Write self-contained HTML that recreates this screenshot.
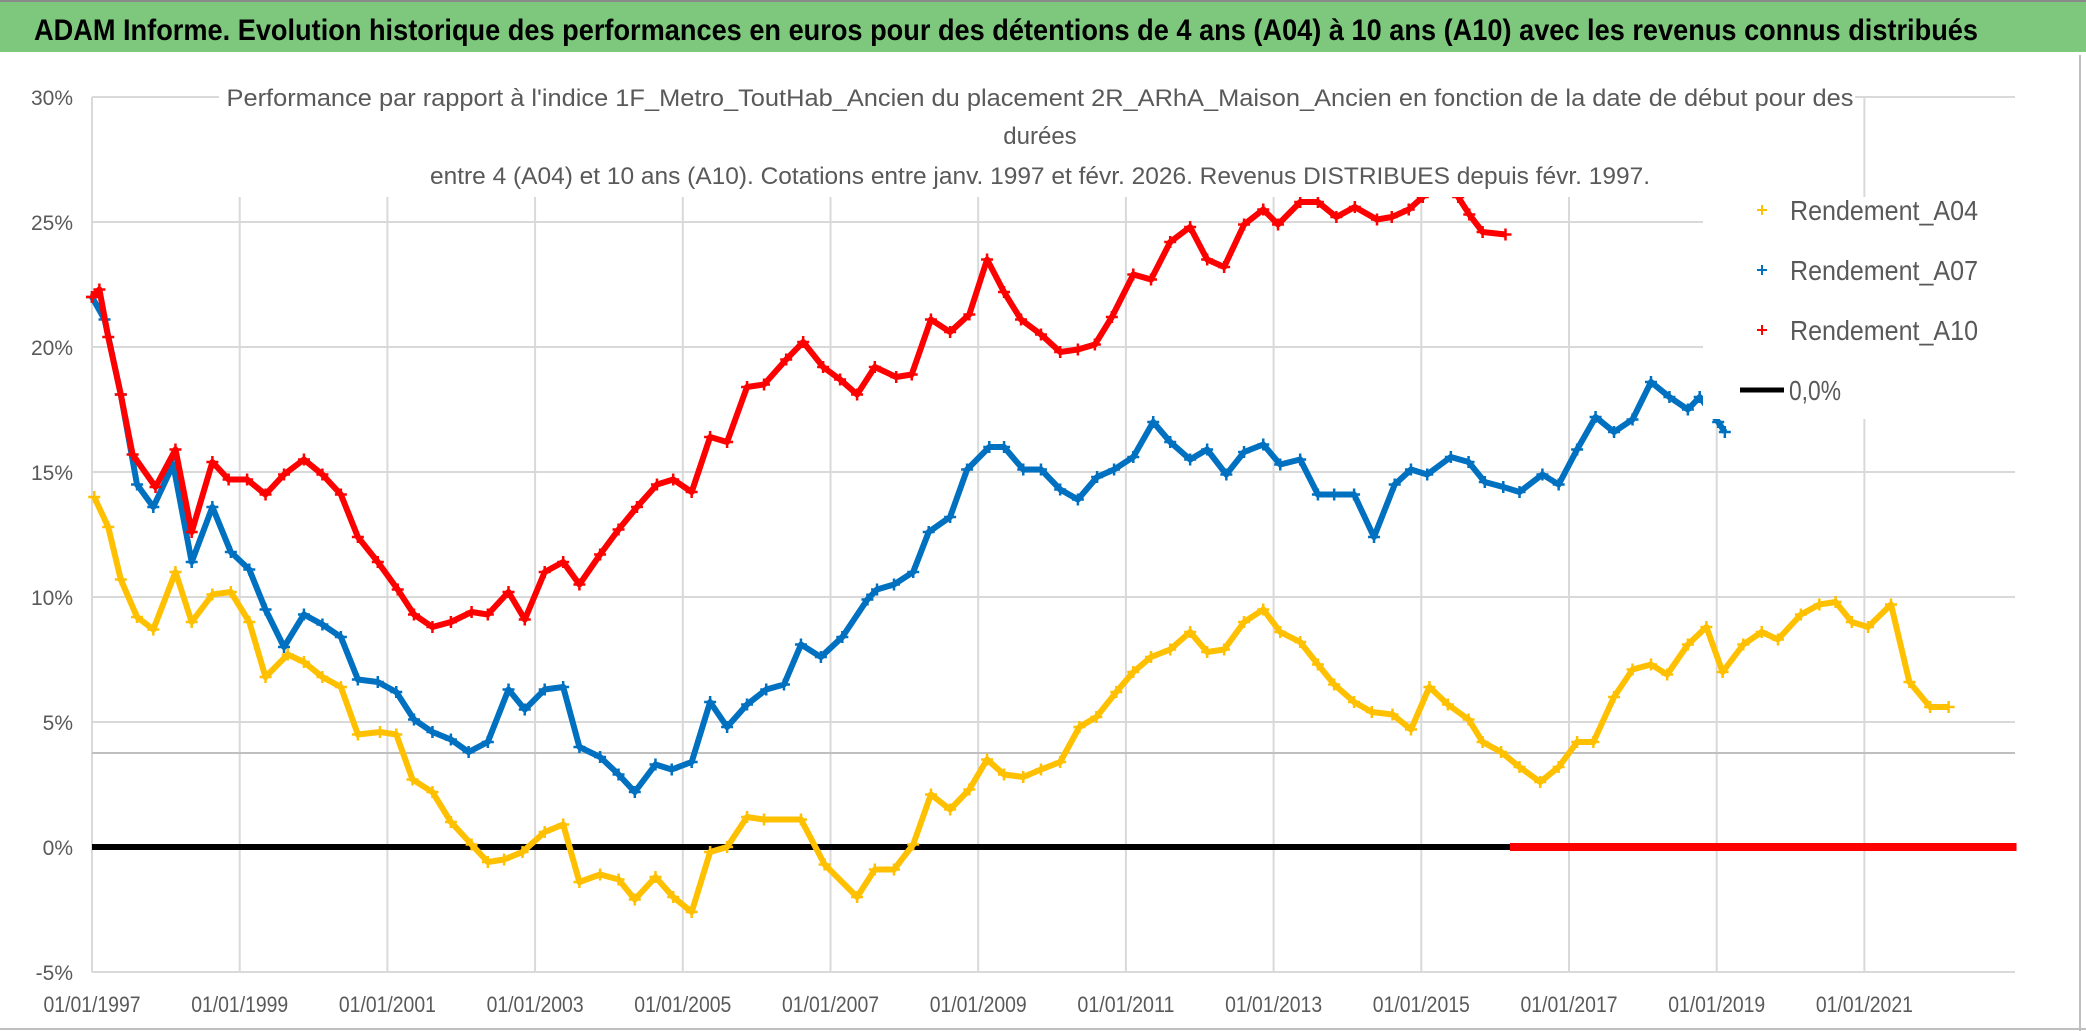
<!DOCTYPE html>
<html><head><meta charset="utf-8"><style>
html,body{margin:0;padding:0;background:#fff;}
svg{display:block;font-family:"Liberation Sans",sans-serif;}
</style></head><body>
<svg id="chart" width="2086" height="1031" viewBox="0 0 2086 1031" xmlns="http://www.w3.org/2000/svg">
<rect x="0" y="0" width="2086" height="1031" fill="#fff"/>
<rect x="0" y="0" width="2086" height="52" fill="#7dc87d"/>
<rect x="0" y="0" width="2086" height="2" fill="#8a8a8a"/>
<text x="34" y="40" font-size="30" font-weight="bold" fill="#000" textLength="1944" lengthAdjust="spacingAndGlyphs">ADAM Informe. Evolution historique des performances en euros pour des détentions de 4 ans (A04) à 10 ans (A10) avec les revenus connus distribués</text>
<line x1="2080" y1="55" x2="2080" y2="1031" stroke="#bfbfbf" stroke-width="2"/>
<line x1="0" y1="1029" x2="2086" y2="1029" stroke="#bfbfbf" stroke-width="2"/>
<g id="grid"></g>
<g id="series"></g>
<rect x="219" y="78" width="1636" height="119" fill="#fff"/>
<text x="1040" y="106" font-size="24" fill="#595959" text-anchor="middle" textLength="1627" lengthAdjust="spacingAndGlyphs">Performance par rapport à l'indice 1F_Metro_ToutHab_Ancien  du placement 2R_ARhA_Maison_Ancien en fonction de la date de début pour des</text>
<text x="1040" y="144" font-size="24" fill="#595959" text-anchor="middle">durées</text>
<text x="1040" y="184" font-size="24" fill="#595959" text-anchor="middle" textLength="1220" lengthAdjust="spacingAndGlyphs">entre 4 (A04) et 10 ans (A10). Cotations entre janv. 1997 et févr. 2026. Revenus DISTRIBUES depuis févr. 1997.</text>
<rect x="1703" y="197" width="312" height="222" fill="#fff"/>
<g>
 <g><path d="M1757 210h10M1762 205v10" stroke="#ffc000" stroke-width="2"/><text x="1790" y="220" font-size="28" fill="#595959" textLength="188" lengthAdjust="spacingAndGlyphs">Rendement_A04</text></g>
 <g><path d="M1757 270h10M1762 265v10" stroke="#0070c0" stroke-width="2"/><text x="1790" y="280" font-size="28" fill="#595959" textLength="188" lengthAdjust="spacingAndGlyphs">Rendement_A07</text></g>
 <g><path d="M1757 330h10M1762 325v10" stroke="#ff0000" stroke-width="2"/><text x="1790" y="340" font-size="28" fill="#595959" textLength="188" lengthAdjust="spacingAndGlyphs">Rendement_A10</text></g>
 <g><line x1="1740" y1="390" x2="1784" y2="390" stroke="#000" stroke-width="5"/><text x="1789" y="400" font-size="28" fill="#595959" textLength="52" lengthAdjust="spacingAndGlyphs">0,0%</text></g>
</g>
<g id="axes"></g>
</svg>
<script>
const yTicks = [30, 25, 20, 15, 10, 5, 0, -5];
const yTickLabels = ["30%","25%","20%","15%","10%","5%","0%","-5%"];
const xTicks = [1997,1999,2001,2003,2005,2007,2009,2011,2013,2015,2017,2019,2021];
const xTickLabels = ["01/01/1997","01/01/1999","01/01/2001","01/01/2003","01/01/2005","01/01/2007","01/01/2009","01/01/2011","01/01/2013","01/01/2015","01/01/2017","01/01/2019","01/01/2021"];
const refLineValue = 3.76;
const zeroLineValue = 0;
const a10ZeroStart = 2016.2;
const a10ZeroEnd = 2023.06;
const a04Dates = [1997.03,1997.22,1997.39,1997.61,1997.83,1998.13,1998.35,1998.63,1998.88,1999.13,1999.35,1999.65,1999.87,2000.12,2000.37,2000.6,2000.9,2001.12,2001.34,2001.61,2001.86,2002.14,2002.36,2002.58,2002.83,2003.13,2003.38,2003.6,2003.88,2004.13,2004.35,2004.63,2004.87,2005.12,2005.37,2005.6,2005.87,2006.1,2006.6,2006.92,2007.36,2007.6,2007.86,2008.12,2008.36,2008.62,2008.88,2009.12,2009.35,2009.61,2009.85,2010.11,2010.37,2010.6,2010.87,2011.1,2011.34,2011.6,2011.87,2012.1,2012.33,2012.6,2012.86,2013.09,2013.36,2013.6,2013.82,2014.09,2014.33,2014.61,2014.86,2015.11,2015.36,2015.64,2015.83,2016.08,2016.33,2016.61,2016.86,2017.11,2017.33,2017.61,2017.86,2018.11,2018.33,2018.61,2018.86,2019.08,2019.36,2019.61,2019.83,2020.14,2020.39,2020.61,2020.83,2021.05,2021.36,2021.61,2021.89,2022.14];
const a04Values = [14.0,12.8,10.7,9.2,8.7,11.0,9.0,10.1,10.2,9.0,6.8,7.7,7.4,6.8,6.4,4.5,4.6,4.5,2.7,2.2,1.0,0.1,-0.6,-0.5,-0.2,0.6,0.9,-1.4,-1.1,-1.3,-2.1,-1.2,-2.0,-2.6,-0.2,0.0,1.2,1.1,1.1,-0.7,-2.0,-0.9,-0.9,0.1,2.1,1.5,2.3,3.5,2.9,2.8,3.1,3.4,4.8,5.2,6.2,7.0,7.6,7.9,8.6,7.8,7.9,9.0,9.5,8.6,8.2,7.3,6.5,5.8,5.4,5.3,4.7,6.4,5.7,5.1,4.2,3.8,3.2,2.6,3.2,4.2,4.2,6.0,7.1,7.3,6.9,8.1,8.8,7.0,8.1,8.6,8.3,9.3,9.7,9.8,9.0,8.8,9.7,6.6,5.6,5.6];
const a07Dates = [1997.0,1997.17,1997.39,1997.61,1997.83,1998.1,1998.35,1998.63,1998.88,1999.13,1999.35,1999.6,1999.87,2000.12,2000.37,2000.6,2000.87,2001.12,2001.36,2001.61,2001.86,2002.1,2002.36,2002.64,2002.86,2003.13,2003.38,2003.6,2003.88,2004.13,2004.35,2004.63,2004.85,2005.12,2005.37,2005.6,2005.87,2006.13,2006.37,2006.6,2006.87,2007.16,2007.5,2007.63,2007.86,2008.12,2008.33,2008.62,2008.85,2009.15,2009.35,2009.61,2009.85,2010.11,2010.35,2010.61,2010.84,2011.1,2011.37,2011.6,2011.87,2012.1,2012.36,2012.6,2012.86,2013.09,2013.36,2013.6,2013.82,2014.09,2014.36,2014.64,2014.86,2015.08,2015.4,2015.64,2015.86,2016.11,2016.33,2016.64,2016.86,2017.11,2017.36,2017.61,2017.86,2018.11,2018.36,2018.61,2018.77,2019.02,2019.11];
const a07Values = [22.0,21.1,18.1,14.5,13.6,15.3,11.4,13.6,11.8,11.1,9.5,8.0,9.3,8.9,8.4,6.7,6.6,6.2,5.1,4.6,4.3,3.8,4.2,6.3,5.5,6.3,6.4,4.0,3.6,2.9,2.2,3.3,3.1,3.4,5.8,4.8,5.7,6.3,6.5,8.1,7.6,8.4,9.9,10.3,10.5,11.0,12.6,13.2,15.1,16.0,16.0,15.1,15.1,14.3,13.9,14.8,15.1,15.6,17.0,16.2,15.5,15.9,14.9,15.8,16.1,15.3,15.5,14.1,14.1,14.1,12.4,14.5,15.1,14.9,15.6,15.4,14.6,14.4,14.2,14.9,14.5,15.9,17.2,16.6,17.1,18.6,18.0,17.5,18.0,17.0,16.6];
const a10Dates = [1997.0,1997.1,1997.22,1997.39,1997.55,1997.86,1998.13,1998.35,1998.63,1998.85,1999.1,1999.35,1999.6,1999.87,2000.12,2000.37,2000.6,2000.87,2001.14,2001.36,2001.61,2001.86,2002.14,2002.36,2002.64,2002.86,2003.13,2003.38,2003.6,2003.88,2004.13,2004.38,2004.65,2004.87,2005.12,2005.37,2005.6,2005.87,2006.1,2006.4,2006.63,2006.9,2007.13,2007.36,2007.6,2007.89,2008.1,2008.36,2008.62,2008.88,2009.12,2009.35,2009.58,2009.85,2010.11,2010.35,2010.58,2010.81,2011.1,2011.34,2011.6,2011.87,2012.1,2012.33,2012.6,2012.86,2013.06,2013.36,2013.6,2013.85,2014.1,2014.4,2014.6,2014.83,2015.02,2015.25,2015.5,2015.65,2015.83,2016.14];
const a10Values = [22.0,22.3,20.4,18.1,15.7,14.4,15.9,12.6,15.4,14.7,14.7,14.1,14.9,15.5,14.9,14.1,12.4,11.4,10.3,9.3,8.8,9.0,9.4,9.3,10.2,9.1,11.0,11.4,10.5,11.7,12.7,13.6,14.5,14.7,14.2,16.4,16.2,18.4,18.5,19.5,20.2,19.2,18.7,18.1,19.2,18.8,18.9,21.1,20.6,21.3,23.5,22.2,21.1,20.5,19.8,19.9,20.1,21.2,22.9,22.7,24.2,24.8,23.5,23.2,24.9,25.5,24.9,25.8,25.8,25.2,25.6,25.1,25.2,25.5,26.0,26.9,26.0,25.3,24.6,24.5];

const NS = "http://www.w3.org/2000/svg";
const X0 = 92, X1 = 2015, PX_PER_YEAR = 73.85, Y0 = 847, PX_PER_PCT = 25;
function xScale(year){ return X0 + (year - 1997) * PX_PER_YEAR; }
function yScale(v){ return Y0 - v * PX_PER_PCT; }
function mk(tag, attrs, parent){ const e = document.createElementNS(NS, tag); for (const k in attrs) e.setAttribute(k, attrs[k]); parent.appendChild(e); return e; }

const grid = document.getElementById('grid');
const axes = document.getElementById('axes');
const series = document.getElementById('series');

yTicks.forEach((t, i) => {
  const y = yScale(t);
  const gl = mk('line', {x1: X0, x2: X1, y1: y, y2: y, stroke: '#d9d9d9', 'stroke-width': 2}, grid);
  
  
  const tx = mk('text', {x: 73, y: y + 8, 'font-size': 21, fill: '#595959', 'text-anchor': 'end'}, axes);
  tx.textContent = yTickLabels[i];
  
  
});
xTicks.forEach((t, i) => {
  const x = xScale(t);
  const gl = mk('line', {x1: x, x2: x, y1: yScale(30), y2: yScale(-5), stroke: '#d9d9d9', 'stroke-width': 2}, grid);
  
  
  const tx = mk('text', {x: x, y: 1012, 'font-size': 22, fill: '#595959', 'text-anchor': 'middle', textLength: 97, lengthAdjust: 'spacingAndGlyphs'}, axes);
  tx.textContent = xTickLabels[i];
  
  
});
const rl = mk('line', {x1: X0, x2: X1, y1: yScale(refLineValue), y2: yScale(refLineValue), stroke: '#bfbfbf', 'stroke-width': 2}, grid);



const zl = mk('line', {x1: X0, x2: X1, y1: yScale(zeroLineValue), y2: yScale(zeroLineValue), stroke: '#000', 'stroke-width': 6}, series);



function drawSeries(dates, values, color, name){
  const g = mk('g', {}, series);
  
  
  const pts = dates.map((d, i) => xScale(d).toFixed(1) + ',' + yScale(values[i]).toFixed(1)).join(' ');
  const pl = mk('polyline', {points: pts, fill: 'none', stroke: color, 'stroke-width': 6, 'stroke-linejoin': 'round'}, g);
  
  
  let d = '';
  dates.forEach((dt, i) => {
    const x = xScale(dt), y = yScale(values[i]);
    d += 'M' + (x - 6) + ' ' + y + 'h12M' + x + ' ' + (y - 6) + 'v12';
  });
  const mp = mk('path', {d: d, stroke: color, 'stroke-width': 2.5, fill: 'none'}, g);
  
  
}
drawSeries(a04Dates, a04Values, '#ffc000', 'series-a04');
drawSeries(a07Dates, a07Values, '#0070c0', 'series-a07');
drawSeries(a10Dates, a10Values, '#ff0000', 'series-a10');
const rz = mk('line', {x1: xScale(a10ZeroStart), x2: xScale(a10ZeroEnd), y1: yScale(0), y2: yScale(0), stroke: '#ff0000', 'stroke-width': 8}, series);


</script>
</body></html>
